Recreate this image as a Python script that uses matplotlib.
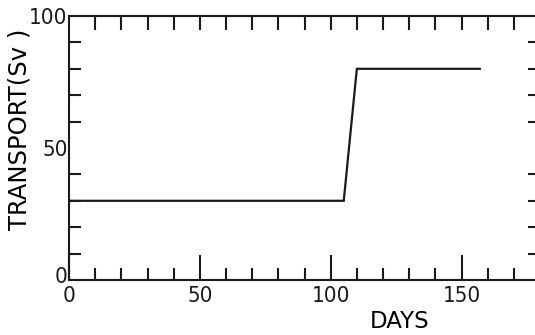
import matplotlib
matplotlib.use("Agg")
import matplotlib.pyplot as plt
from matplotlib.ticker import MultipleLocator
import matplotlib.transforms as mtrans

days = [0, 105, 110, 157]
transport = [30, 30, 80, 80]
xticks = [0, 50, 100, 150]
yticks = [0, 50, 100]
minor_step = 10

plt.rcParams['font.family'] = ['DejaVu Sans']
INK = '#1a1a1a'

fig = plt.figure(figsize=(5.35, 3.35), dpi=100)
ax = fig.add_axes([69/535, 55/335, 471/535, 264/335])
ax.plot(days, transport, color=INK, lw=1.6, solid_joinstyle='miter')
ax.set_xlim(0, 180)
ax.set_ylim(0, 100)

for s in ax.spines.values():
    s.set_linewidth(1.5)
    s.set_color(INK)
ax.spines['right'].set_visible(False)

ax.set_xticks(xticks)
ax.set_xticklabels([str(v) for v in xticks])
ax.set_yticks(yticks)
ax.set_yticklabels([str(v) for v in yticks])
ax.xaxis.set_minor_locator(MultipleLocator(minor_step))
ax.yaxis.set_minor_locator(MultipleLocator(minor_step))

ax.tick_params(axis='x', which='major', direction='in', length=18, width=1.5,
               top=False, bottom=True, labelsize=16, pad=4, colors=INK)
ax.tick_params(axis='x', which='minor', direction='in', length=8.6, width=1.5,
               top=False, bottom=True, colors=INK)
ax.tick_params(axis='y', which='major', direction='in', length=0, width=1.5,
               left=False, right=False, labelsize=16, pad=1, colors=INK)
ax.tick_params(axis='y', which='minor', direction='in', length=8.6, width=1.5,
               left=True, right=True, colors=INK)

# top ticks: every 10 days, uniform length
ttrans = mtrans.blended_transform_factory(ax.transData, ax.transAxes)
for xv in range(minor_step, 180, minor_step):
    ax.plot([xv, xv], [1.0, 1.0 - 14/264], color=INK, lw=1.5,
            transform=ttrans, clip_on=False, solid_capstyle='butt')

for lab in ax.get_xticklabels() + ax.get_yticklabels():
    lab.set_fontstretch('condensed')

# lift the y "0" label a little like the reference
ylabs = ax.get_yticklabels()
ylabs[0].set_transform(ylabs[0].get_transform() +
                       mtrans.ScaledTranslation(0, 5/100, fig.dpi_scale_trans))

ax.set_xlabel('DAYS', fontsize=16.5)
ax.xaxis.set_label_coords((400-69)/471, -(322-280)/264)
ax.xaxis.label.set_verticalalignment('center')
ax.set_ylabel('TRANSPORT(Sv )', fontsize=17.5)
ax.yaxis.set_label_coords(-(69-20)/471, (280-129)/264)
ax.yaxis.label.set_verticalalignment('center')

fig.savefig('out.png', dpi=100)
